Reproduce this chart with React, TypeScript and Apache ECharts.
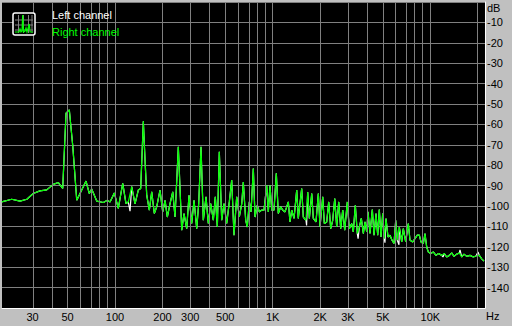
import React, { useEffect, useRef } from "react";
import * as echarts from "echarts";

// Frequency axis bounds (Hz)
const F_MIN = 19.2;
const F_MAX = 22190;

// Right channel spectrum (Hz, dB)
const rightFreq = [
  19.1, 22.1, 25.0, 27.6, 30.3, 33.4, 36.9, 40.6, 43.7, 46.6, 48.9, 51.3, 53.9, 57.2, 61.5, 65.5, 68.7, 71.1, 76.6, 84.3,
  89.4, 93.0, 99.0, 104.9, 111.9, 117.4, 121.4, 127.6, 133.9, 140.5, 145.5, 151.2, 155.0, 158.9, 165.0, 170.9, 177.5, 183.8, 192.9, 200.7,
  207.6, 214.6, 223.3, 232.3, 240.2, 252.0, 264.9, 273.8, 284.9, 294.6, 306.5, 317.0, 329.7, 339.4, 351.0, 363.0, 377.6, 390.5, 404.4, 420.1,
  432.5, 445.4, 458.6, 474.9, 491.2, 510.9, 530.7, 549.5, 568.3, 591.2, 614.0, 635.9, 651.0, 674.2, 690.1, 710.6, 728.5, 753.4, 772.3, 798.5,
  822.2, 851.5, 880.6, 916.0, 937.7, 961.3, 985.4, 1019, 1054, 1085, 1124, 1157, 1197, 1256, 1287, 1320, 1365, 1420, 1453, 1527,
  1563, 1626, 1667, 1707, 1768, 1809, 1882, 1947, 1995, 2076, 2125, 2200, 2266, 2333, 2402, 2474, 2546, 2622, 2699, 2780,
  2862, 2972, 3060, 3170, 3244, 3341, 3440, 3542, 3646, 3755, 3849, 3946, 4021, 4140, 4282, 4390, 4519, 4633, 4742, 4862,
  4983, 5102, 5230, 5385, 5545, 5709, 5878, 6026, 6168, 6350, 6577, 6733, 6973, 7243, 7425, 7723, 7985, 8257, 8506, 8719,
  9016, 9241, 9474, 9698, 10044, 10433, 10852, 11288, 11793, 12248, 12686, 13182, 13650, 14115, 14683, 15252, 15795, 16331, 16990, 17830,
  18710, 19462, 20426, 21153, 21878,
];
const rightDb = [
  -98.0, -96.7, -97.6, -96.7, -93.9, -92.6, -92.1, -89.4, -88.5, -91.4, -54.5, -52.9, -70.1, -97.2, -92.2, -87.8, -93.9, -91.7, -97.6, -98.3,
  -97.2, -98.0, -93.6, -101.2, -88.9, -98.8, -98.0, -90.5, -99.0, -92.2, -91.4, -58.5, -77.5, -94.7, -102.0, -93.1, -103.7, -100.4, -92.2, -102.9,
  -97.2, -105.4, -98.8, -93.1, -105.4, -71.0, -111.9, -103.7, -111.1, -94.7, -108.6, -97.2, -111.1, -98.8, -71.0, -107.0, -95.5, -108.6, -98.8, -107.0,
  -95.5, -110.3, -73.4, -107.0, -98.8, -108.6, -98.0, -87.3, -114.3, -95.5, -105.4, -99.0, -88.2, -107.0, -110.3, -98.0, -102.9, -81.6, -105.4, -99.6,
  -102.9, -102.0, -102.0, -89.8, -102.9, -89.8, -102.0, -102.0, -84.0, -103.7, -100.4, -102.0, -102.9, -98.0, -107.8, -102.0, -106.1, -92.2, -106.1, -91.4,
  -105.4, -107.0, -93.1, -106.1, -93.9, -106.1, -107.8, -93.9, -110.3, -95.5, -108.6, -107.8, -98.0, -111.1, -107.0, -96.3, -110.3, -98.0, -111.1, -102.0,
  -111.9, -98.0, -111.1, -108.6, -112.7, -99.6, -113.5, -110.3, -106.1, -113.5, -107.8, -112.7, -102.9, -113.5, -101.7, -114.3, -103.7, -114.3, -101.7, -115.2,
  -103.7, -116.0, -106.1, -115.2, -114.3, -116.8, -118.4, -107.0, -116.8, -110.3, -117.6, -111.1, -117.6, -108.6, -116.8, -117.6, -116.0, -114.3, -114.3, -117.6,
  -118.4, -113.5, -120.1, -122.5, -123.3, -122.5, -124.2, -123.3, -124.2, -123.3, -125.0, -124.2, -123.0, -124.7, -123.6, -123.0, -125.0, -123.6, -124.7, -124.2,
  -125.0, -124.5, -124.2, -125.9, -127.0,
];

// Left channel: same trace as the right one, plus the points where it deviates
const leftExtraFreq = [124.5, 1640, 3480, 5150, 6320, 12020, 15410, 20040];
const leftExtraDb = [-102.5, -109.5, -116.0, -118.0, -119.0, -125.0, -121.5, -122.5];

// Vertical grid lines (Hz)
const gridFreqs = [
  30, 40, 50, 60, 70, 80, 90, 100, 200, 300, 400, 500, 600, 700, 800, 900,
  1000, 2000, 3000, 4000, 5000, 6000, 7000, 8000, 9000, 10000, 20000,
];
// Frequency tick labels
const labelFreqs = [30, 50, 100, 200, 300, 500, 1000, 2000, 3000, 5000, 10000];
const labelTexts = ["30", "50", "100", "200", "300", "500", "1K", "2K", "3K", "5K", "10K"];

const FONT = "'Liberation Sans', Arial, sans-serif";

export default function App() {
  const ref = useRef<HTMLDivElement>(null);
  useEffect(() => {
    if (!ref.current) return;
    const chart = echarts.init(ref.current, null, { renderer: "svg" });
    const right = rightFreq.map((f, i) => [Math.log10(f), rightDb[i]]);
    const leftPts = rightFreq
      .map((f, i) => [f, rightDb[i]])
      .concat(leftExtraFreq.map((f, i) => [f, leftExtraDb[i]]))
      .sort((a, b) => a[0] - b[0])
      .map((p) => [Math.log10(p[0]), p[1]]);
    const labelVals = labelFreqs.map((f) => Math.log10(f));

    chart.setOption({
      animation: false,
      backgroundColor: "#c0c0c0",
      grid: { left: 2, top: 2, right: 27, bottom: 18, show: true, backgroundColor: "#000", borderWidth: 0 },
      xAxis: {
        type: "value",
        min: Math.log10(F_MIN),
        max: Math.log10(F_MAX),
        splitLine: { show: false },
        axisTick: { show: false },
        axisLine: { show: true, onZero: false, lineStyle: { color: "#ffffff", width: 1 } },
        axisLabel: {
          customValues: labelVals,
          color: "#000",
          fontSize: 11,
          fontFamily: FONT,
          margin: 3,
          hideOverlap: false,
          formatter: (v: number) => {
            const i = labelVals.findIndex((x) => Math.abs(x - v) < 1e-6);
            return i >= 0 ? labelTexts[i] : "";
          },
        },
      },
      yAxis: {
        type: "value",
        position: "right",
        min: -150,
        max: 0,
        interval: 10,
        splitLine: { show: true, lineStyle: { color: "#808080", width: 1 } },
        axisLine: { show: true, onZero: false, lineStyle: { color: "#ffffff", width: 1 } },
        axisTick: { show: false },
        axisLabel: {
          color: "#000",
          fontSize: 11,
          fontFamily: FONT,
          margin: 2,
          formatter: (v: number) => (v === 0 || v === -150 ? "" : String(v)),
        },
      },
      series: [
        {
          type: "line",
          data: [],
          z: 0,
          markLine: {
            silent: true,
            symbol: "none",
            animation: false,
            label: { show: false },
            lineStyle: { color: "#808080", width: 1, type: "solid" },
            data: [{ xAxis: Math.log10(F_MIN) }].concat(gridFreqs.map((f) => ({ xAxis: Math.log10(f) }))),
          },
        },
        {
          name: "Left channel",
          type: "line",
          data: leftPts,
          showSymbol: false,
          symbol: "none",
          z: 2,
          lineStyle: { color: "#ffffff", width: 1.2 },
        },
        {
          name: "Right channel",
          type: "line",
          data: right,
          showSymbol: false,
          symbol: "none",
          z: 3,
          lineStyle: { color: "#00ff00", width: 1.2 },
        },
      ],
      graphic: [
        { type: "rect", shape: { x: 13, y: 13, width: 22, height: 22, r: 2 }, style: { fill: "#000", stroke: "#ffffff", lineWidth: 1.5 }, z: 10 },
        { type: "line", shape: { x1: 18.5, y1: 15, x2: 18.5, y2: 33 }, style: { stroke: "#808080", lineWidth: 1 }, z: 11 },
        { type: "line", shape: { x1: 23.5, y1: 15, x2: 23.5, y2: 33 }, style: { stroke: "#808080", lineWidth: 1 }, z: 11 },
        { type: "line", shape: { x1: 28.5, y1: 15, x2: 28.5, y2: 33 }, style: { stroke: "#808080", lineWidth: 1 }, z: 11 },
        { type: "line", shape: { x1: 32, y1: 15, x2: 32, y2: 33 }, style: { stroke: "#808080", lineWidth: 1 }, z: 11 },
        { type: "line", shape: { x1: 15, y1: 20, x2: 33, y2: 20 }, style: { stroke: "#808080", lineWidth: 1 }, z: 11 },
        { type: "line", shape: { x1: 15, y1: 25, x2: 33, y2: 25 }, style: { stroke: "#808080", lineWidth: 1 }, z: 11 },
        { type: "line", shape: { x1: 15, y1: 30, x2: 33, y2: 30 }, style: { stroke: "#808080", lineWidth: 1 }, z: 11 },
        {
          type: "polyline",
          shape: { points: [[15, 32], [19, 32], [20, 29], [21, 32], [22, 31], [22.7, 15], [23.5, 32], [25, 31], [26, 28], [27, 32], [29.3, 24], [30, 32], [33, 32]] },
          style: { stroke: "#00ff00", fill: "none", lineWidth: 1.2 },
          z: 12,
        },
        { type: "text", x: 52, y: 14.5, style: { text: "Left channel", fill: "#ffffff", font: `11px ${FONT}`, verticalAlign: "middle" }, z: 12 },
        { type: "text", x: 52, y: 31.5, style: { text: "Right channel", fill: "#00ff00", font: `11px ${FONT}`, verticalAlign: "middle" }, z: 12 },
        { type: "text", x: 487, y: 8, style: { text: "dB", fill: "#000", font: `11px ${FONT}`, verticalAlign: "middle" }, z: 12 },
        { type: "text", x: 486, y: 316, style: { text: "Hz", fill: "#000", font: `11px ${FONT}`, verticalAlign: "middle" }, z: 12 },
      ],
    });
    return () => chart.dispose();
  }, []);
  return <div ref={ref} style={{ position: "fixed", left: 0, top: 0, width: 512, height: 326 }} />;
}
